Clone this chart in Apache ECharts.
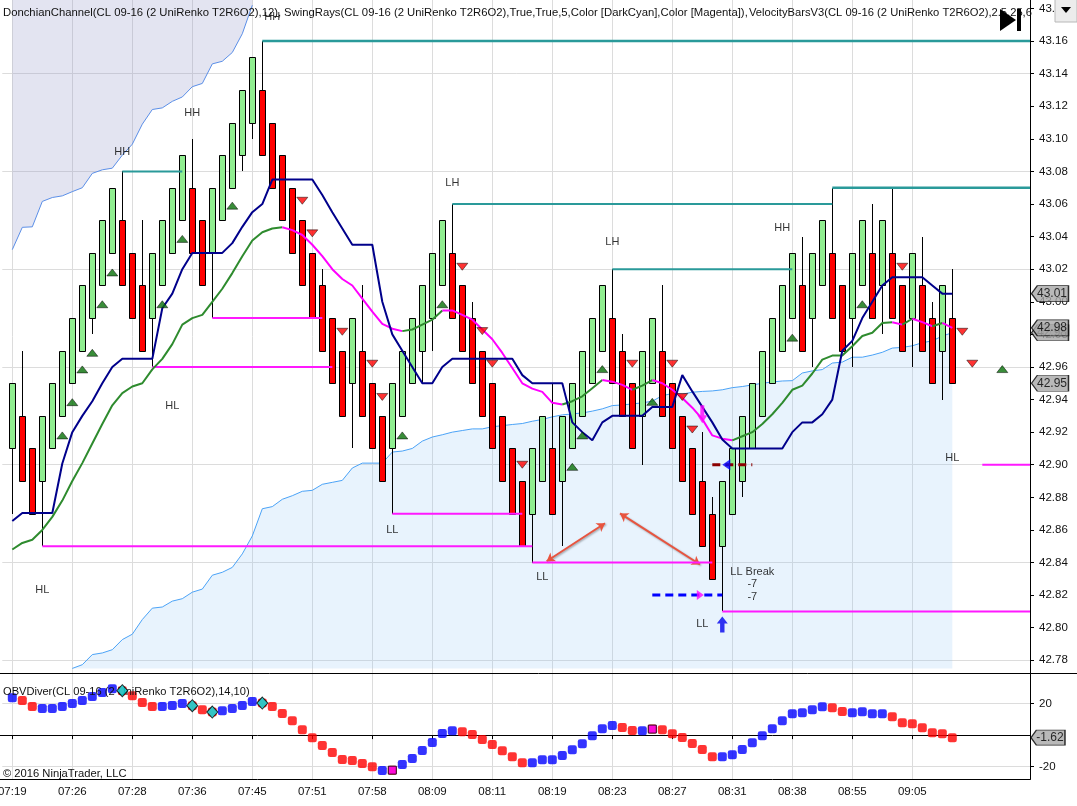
<!DOCTYPE html>
<html><head><meta charset="utf-8">
<style>html,body{margin:0;padding:0;background:#fff}#c{width:1077px;height:806px}</style>
<script src="https://cdn.jsdelivr.net/npm/echarts@6/dist/echarts.min.js"></script>
</head><body><div id="c"></div>
<script>
const FONT='"Liberation Sans",Arial,sans-serif';
const timeLabels=['07:19','07:26','07:28','07:36','07:45','07:51','07:58','08:09','08:11','08:19','08:23','08:27','08:31','08:38','08:55','09:05'];
const timeIndex=[0,6,12,18,24,30,36,42,48,54,60,66,72,78,84,90];
const priceTicks=[42.78,42.80,42.82,42.84,42.86,42.88,42.90,42.92,42.94,42.96,42.98,43.00,43.02,43.04,43.06,43.08,43.10,43.12,43.14,43.16,43.18];
const priceGrid=[42.78,42.84,42.90,42.96,43.02,43.08,43.14];
const bodyTop=[42.95,42.93,42.91,42.93,42.95,42.97,42.99,43.01,43.03,43.05,43.07,43.05,43.03,43.01,43.03,43.05,43.07,43.09,43.07,43.05,43.07,43.09,43.11,43.13,43.15,43.13,43.11,43.09,43.07,43.05,43.03,43.01,42.99,42.97,42.99,42.97,42.95,42.93,42.95,42.97,42.99,43.01,43.03,43.05,43.03,43.01,42.99,42.97,42.95,42.93,42.91,42.89,42.91,42.93,42.91,42.93,42.95,42.97,42.99,43.01,42.99,42.97,42.95,42.97,42.99,42.97,42.95,42.93,42.91,42.89,42.87,42.89,42.91,42.93,42.95,42.97,42.99,43.01,43.03,43.01,43.03,43.05,43.03,43.01,43.03,43.05,43.03,43.05,43.03,43.01,43.03,43.01,42.99,43.01,42.99];
const bodyBottom=[42.91,42.89,42.87,42.89,42.91,42.93,42.95,42.97,42.99,43.01,43.03,43.01,42.99,42.97,42.99,43.01,43.03,43.05,43.03,43.01,43.03,43.05,43.07,43.09,43.11,43.09,43.07,43.05,43.03,43.01,42.99,42.97,42.95,42.93,42.95,42.93,42.91,42.89,42.91,42.93,42.95,42.97,42.99,43.01,42.99,42.97,42.95,42.93,42.91,42.89,42.87,42.85,42.87,42.89,42.87,42.89,42.91,42.93,42.95,42.97,42.95,42.93,42.91,42.93,42.95,42.93,42.91,42.89,42.87,42.85,42.83,42.85,42.87,42.89,42.91,42.93,42.95,42.97,42.99,42.97,42.99,43.01,42.99,42.97,42.99,43.01,42.99,43.01,42.99,42.97,42.99,42.97,42.95,42.97,42.95];
const greenBars=[0,3,4,5,6,7,8,9,10,14,15,16,17,20,21,22,23,24,34,38,39,40,41,42,43,52,53,55,56,57,58,59,63,64,71,72,73,74,75,76,77,78,80,81,84,85,87,90,93];
const wickHigh=[[1,42.97],[11,43.08],[13,43.05],[18,43.10],[25,43.16],[31,43.02],[35,43.01],[44,43.06],[46,43.00],[54,42.95],[60,43.02],[61,42.98],[65,43.01],[69,42.92],[70,42.88],[79,43.04],[82,43.07],[86,43.06],[88,43.07],[91,43.04],[92,43.00],[94,43.02]];
const wickLow=[[0,42.87],[3,42.85],[8,42.98],[14,42.96],[20,42.99],[23,43.08],[24,43.10],[34,42.91],[38,42.87],[41,42.95],[42,42.97],[52,42.84],[55,42.85],[63,42.90],[71,42.81],[73,42.88],[80,42.96],[84,42.96],[87,42.98],[90,42.96],[93,42.94]];
const navyLine=[42.8655,42.8704,42.8704,42.8704,42.8704,42.9008,42.92,42.93,42.939,42.95,42.96,42.965,42.965,42.965,42.965,42.996,43.005,43.02,43.03,43.03,43.03,43.03,43.036,43.046,43.055,43.06,43.075,43.075,43.075,43.075,43.075,43.0655,43.055,43.045,43.035,43.035,43.035,43.0,42.98,42.97,42.96,42.95,42.95,42.96,42.965,42.965,42.965,42.965,42.965,42.965,42.965,42.955,42.95,42.95,42.95,42.95,42.926,42.92,42.915,42.926,42.93,42.93,42.93,42.93,42.9355,42.9355,42.9355,42.955,42.945,42.9355,42.926,42.9155,42.91,42.91,42.91,42.91,42.91,42.91,42.92,42.926,42.926,42.931,42.94,42.97,42.976,42.99,43.0,43.01,43.015,43.015,43.015,43.015,43.01,43.005,43.005];
const maLine=[42.848,42.852,42.854,42.86,42.868,42.878,42.89,42.901,42.913,42.925,42.9365,42.944,42.948,42.95,42.9585,42.965,42.974,42.986,42.99,42.992,43.0,43.008,43.0176,43.028,43.0376,43.0427,43.045,43.0457,43.044,43.041,43.035,43.028,43.02,43.014,43.01,43.002,42.994,42.9865,42.9835,42.982,42.983,42.986,42.989,42.9947,42.9947,42.992,42.989,42.983,42.977,42.9686,42.9594,42.95,42.9467,42.9447,42.938,42.937,42.939,42.942,42.947,42.952,42.951,42.949,42.946,42.9486,42.952,42.95,42.946,42.941,42.935,42.928,42.918,42.916,42.915,42.9175,42.92,42.925,42.931,42.938,42.946,42.9486,42.956,42.9645,42.967,42.967,42.9727,42.979,42.981,42.987,42.9875,42.986,42.9896,42.9875,42.985,42.987,42.984];
const maTurns=[[0,'#2e8b2e'],[27,'#ff00ff'],[39,'#2e8b2e'],[43,'#ff00ff'],[55,'#2e8b2e'],[59,'#ff00ff'],[62,'#2e8b2e'],[64,'#ff00ff'],[72,'#2e8b2e'],[88,'#ff00ff'],[89,'#2e8b2e'],[90,'#ff00ff'],[92,'#2e8b2e'],[93,'#ff00ff']];
const upperBand=[43.032,43.0457,43.046,43.0616,43.064,43.065,43.0676,43.07,43.0788,43.081,43.082,43.09,43.0967,43.109,43.118,43.119,43.123,43.1257,43.132,43.134,43.146,43.1476,43.153,43.1645,43.182];
const lowerBandStart=6;
const lowerBand=[42.775,42.7773,42.7835,42.7845,42.7865,42.7927,42.796,42.805,42.812,42.8127,42.8163,42.8178,42.8218,42.8237,42.8322,42.834,42.837,42.8453,42.8563,42.873,42.8743,42.8788,42.881,42.8837,42.8843,42.888,42.8892,42.8904,42.898,42.901,42.901,42.901,42.9078,42.9084,42.91,42.9145,42.917,42.9184,42.92,42.921,42.922,42.922,42.9233,42.924,42.9247,42.9253,42.9267,42.9278,42.9294,42.9306,42.9312,42.9318,42.9329,42.9343,42.9363,42.9367,42.9373,42.938,42.939,42.9424,42.9437,42.9433,42.9445,42.945,42.9453,42.946,42.9473,42.948,42.949,42.95,42.9508,42.9514,42.9516,42.9563,42.9576,42.9584,42.9624,42.963,42.966,42.966,42.9673,42.969,42.9716,42.972,42.973,42.9749,42.976,42.979,42.981];
const X_MAX=101.77;
const tealRays=[[11,17,43.08],[25,X_MAX,43.16],[44,82,43.06],[60,78,43.02],[82,X_MAX,43.07]];
const magentaRays=[[3,52,42.85],[14,32,42.96],[20,31,42.99],[38,51,42.87],[52,70,42.84],[71,X_MAX,42.81],[97,X_MAX,42.90]];
const upTriangles=[[5,42.918],[6,42.9384],[7,42.9585],[8,42.9687],[9,42.9985],[10,43.018],[15,42.9985],[17,43.0386],[22,43.059],[39,42.918],[43,42.9985],[56,42.8987],[57,42.918],[59,42.9587],[64,42.9386],[78,42.978],[85,42.9985],[99,42.9587]];
const downTriangles=[[29,43.062],[30,43.042],[33,42.9816],[36,42.962],[37,42.9416],[45,43.0215],[47,42.982],[48,42.962],[51,42.90],[62,42.962],[66,42.962],[67,42.9416],[68,42.9216],[89,43.0215],[95,42.9816],[96,42.962]];
const textNotes=[['HH',26,43.175],['HH',11,43.092],['HH',18,43.116],['HL',16,42.936],['HL',3,42.823],['LH',44,43.073],['LH',60,43.037],['LL',38,42.860],['LL',53,42.831],['LL',69,42.802],['HH',77,43.045],['HL',94,42.904],['LL Break',74,42.834],['-7',74,42.827],['-7',74,42.819]];
const tagPricesBack=[42.981];
const tagTextsBack=['42.98'];
const tagPrices=[43.005,42.984,42.95];
const tagTexts=['43.01','42.98','42.95'];
const obvValues=[23.83,22.13,18.3,17.02,17.02,18.3,20.21,22.13,24.68,27.23,29.57,28.3,25.11,20.85,18.3,18.3,18.94,20.21,18.72,16.17,14.68,15.53,17.02,18.94,21.49,20.43,18.3,13.83,9.15,3.4,-1.7,-6.6,-11.06,-15.53,-16.17,-18.09,-20.21,-22.55,-22.34,-18.72,-14.89,-9.79,-4.68,1.06,2.77,2.13,0.43,-2.77,-5.96,-10,-13.83,-17.66,-17.66,-15.74,-15.74,-12.98,-9.36,-5.53,-0.43,4.04,6.17,4.89,2.98,2.77,3.83,3.4,0.85,-1.49,-5.32,-9.15,-13.83,-13.83,-12.55,-9.15,-4.89,-0.43,4.04,9.15,13.62,14.26,16.17,18.09,17.45,15.11,14.26,14.89,13.62,13.62,11.7,7.87,7.23,4.68,1.49,0.85,-1.62];
const obvBlueRuns=[[0,0],[3,10],[15,17],[21,24],[37,37],[39,44],[52,60],[63,63],[71,81],[84,87]];
const obvDiamonds=[11,18,20,25];
const obvSquares=[38,64];
const arrowLines=[[[59.27,42.8641],[53.43,42.8408]],[[60.77,42.8701],[68.77,42.8388]]];
const blueDashed=[[64,42.82],[71,42.82]];
const redDashed=[[70,42.90],[74,42.90]];

const hiMap=new Map(wickHigh),loMap=new Map(wickLow),greenSet=new Set(greenBars);
const isBlue=i=>obvBlueRuns.some(r=>i>=r[0]&&i<=r[1]);
const line=(data,color,width,extra)=>Object.assign({type:'line',xAxisIndex:0,yAxisIndex:0,data,symbol:'none',silent:true,lineStyle:{color,width},z:5},extra||{});

const maSeries=maTurns.map((t,k)=>{
  const end=k+1<maTurns.length?maTurns[k+1][0]:maLine.length-1;
  const d=[];for(let i=t[0];i<=end;i++)d.push([i,maLine[i]]);
  return line(d,t[1],2,{z:7});
});
const raySeries=[...tealRays.map(r=>line([[r[0],r[2]],[r[1],r[2]]],'#2a9a9a',r[1]===X_MAX?2.4:2,{z:6})),
  ...magentaRays.map(r=>line([[r[0],r[2]],[r[1],r[2]]],'#ff19ff',2,{z:6}))];
const tagSeries=(prices,texts,z)=>({type:'scatter',xAxisIndex:0,yAxisIndex:0,silent:true,z,clip:false,
  data:prices.map((v,i)=>({value:[X_MAX,v],name:texts[i]})),
  symbol:'path://M0 8 L6 0 H38 V16 H6 Z',symbolSize:[37,16],symbolOffset:[20,0],
  itemStyle:{color:'#a8a8a8',borderColor:'#000',borderWidth:1},
  label:{show:true,position:'inside',offset:[2,0],formatter:p=>p.name,fontFamily:FONT,fontSize:12,color:'#000'}});

const series=[
 line(upperBand.map((v,i)=>[i,v]),'#5b8fe8',1,{areaStyle:{color:'rgba(150,155,205,0.27)',origin:'end',opacity:1},z:2}),
 line(lowerBand.map((v,i)=>[i+lowerBandStart,v]),'#4ba3f7',1,{areaStyle:{color:'rgba(140,195,245,0.2)',origin:42.775,opacity:1},z:2}),
 {type:'custom',xAxisIndex:0,yAxisIndex:0,silent:true,z:4,clip:true,
  data:bodyTop.map((t,i)=>[i,t,bodyBottom[i],hiMap.has(i)?hiMap.get(i):t,loMap.has(i)?loMap.get(i):bodyBottom[i]]),
  renderItem(p,api){
   const i=api.value(0),c=api.coord([i,api.value(1)]),b=api.coord([i,api.value(2)]),h=api.coord([i,api.value(3)]),l=api.coord([i,api.value(4)]);
   const x=Math.round(c[0])+0.5,yt=Math.round(c[1])+0.5,yb=Math.round(b[1])+0.5;
   return {type:'group',children:[
     {type:'line',shape:{x1:x,y1:Math.round(h[1]),x2:x,y2:Math.round(l[1])},style:{stroke:'#000',lineWidth:1}},
     {type:'rect',shape:{x:x-3,y:yt,width:6,height:yb-yt},style:{fill:greenSet.has(i)?'#90ee90':'#ff0000',stroke:'#000',lineWidth:1}}
   ]};
  }},
 ...raySeries,
 line(navyLine.map((v,i)=>[i,v]),'#00008b',2,{z:8}),
 ...maSeries,
 {type:'scatter',xAxisIndex:0,yAxisIndex:0,silent:true,z:9,data:upTriangles,symbol:'triangle',symbolSize:[11,7],itemStyle:{color:'#077007',borderColor:'#000',borderWidth:0.6}},
 {type:'scatter',xAxisIndex:0,yAxisIndex:0,silent:true,z:9,data:downTriangles,symbol:'triangle',symbolRotate:180,symbolSize:[11,7],itemStyle:{color:'#ff0000',borderColor:'#000',borderWidth:0.6}},
 {type:'scatter',xAxisIndex:0,yAxisIndex:0,silent:true,z:10,symbol:'circle',symbolSize:1,itemStyle:{color:'transparent'},
  data:textNotes.map(n=>({value:[n[1],n[2]],name:n[0]})),
  label:{show:true,position:'inside',formatter:p=>p.name,fontFamily:FONT,fontSize:11,color:'#000'}},
 line(blueDashed,'#0000ff',3,{z:9,lineStyle:{color:'#0000ff',width:3,type:[8,5]}}),
 line(redDashed,'#8b0000',3,{z:9,lineStyle:{color:'#8b0000',width:3,type:[8,5]}}),
 {type:'scatter',xAxisIndex:0,yAxisIndex:0,silent:true,z:11,data:[[68.8,42.82]],symbol:'triangle',symbolRotate:-90,symbolSize:[10,7],itemStyle:{color:'#ff00ff'}},
 {type:'scatter',xAxisIndex:0,yAxisIndex:0,silent:true,z:11,data:[[71.4,42.90]],symbol:'triangle',symbolRotate:90,symbolSize:[11,8],itemStyle:{color:'#0000ff'}},
 {type:'scatter',xAxisIndex:0,yAxisIndex:0,silent:true,z:11,data:[[71,42.802]],symbol:'path://M5 0 L10 7 H7 V16 H3 V7 H0 Z',symbolSize:[11,16],itemStyle:{color:'#0000ee'}},
 {type:'scatter',xAxisIndex:0,yAxisIndex:0,silent:true,z:12,data:[[69,42.931]],symbol:'path://M5 0 L10 7 H7 V16 H3 V7 H0 Z',symbolRotate:180,symbolSize:[10,18],itemStyle:{color:'#ff00ff'}},
 {type:'line',xAxisIndex:0,yAxisIndex:0,data:[],silent:true,z:11,
  markLine:{silent:true,animation:false,symbol:['arrow','arrow'],symbolSize:8,label:{show:false},
   lineStyle:{color:'#e8543f',width:2,type:'solid',shadowColor:'rgba(0,0,0,0.35)',shadowBlur:2,shadowOffsetX:1,shadowOffsetY:1},
   data:arrowLines.map(a=>[{coord:a[0]},{coord:a[1]}])}},
 tagSeries(tagPricesBack,tagTextsBack,19),
 tagSeries(tagPrices,tagTexts,20),
 {type:'scatter',xAxisIndex:1,yAxisIndex:2,silent:true,z:5,symbol:'roundRect',symbolSize:9,
  data:obvValues.map((v,i)=>({value:[i,v],itemStyle:{color:isBlue(i)?'#0000ff':'#ff0000'}}))},
 {type:'scatter',xAxisIndex:1,yAxisIndex:2,silent:true,z:6,symbol:'diamond',symbolSize:[11,12],
  data:obvDiamonds.map(i=>[i,obvValues[i]]),itemStyle:{color:'#00e8e8',borderColor:'#000',borderWidth:1}},
 {type:'scatter',xAxisIndex:1,yAxisIndex:2,silent:true,z:6,symbol:'rect',symbolSize:8,
  data:obvSquares.map(i=>[i,obvValues[i]]),itemStyle:{color:'#ff00ff',borderColor:'#000',borderWidth:1}},
 {type:'scatter',xAxisIndex:1,yAxisIndex:2,silent:true,z:20,clip:false,
  data:[{value:[X_MAX,-1.62],name:'-1.62'}],
  symbol:'path://M0 8 L6 0 H38 V16 H6 Z',symbolSize:[34,15],symbolOffset:[18,0],
  itemStyle:{color:'#a8a8a8',borderColor:'#000',borderWidth:1},
  label:{show:true,position:'inside',offset:[2,0],formatter:p=>p.name,fontFamily:FONT,fontSize:12,color:'#000'}}
];

const gridLine={show:true,lineStyle:{color:'#dcdcdc',width:1}};
const ts=s=>({fontFamily:FONT,fontSize:s,fontWeight:'normal',color:'#111'});
const chart=echarts.init(document.getElementById('c'),null,{renderer:'canvas'});
chart.setOption({
 animation:false,backgroundColor:'#fff',
 textStyle:{fontFamily:FONT},
 title:[
  {text:'DonchianChannel(CL 09-16 (2 UniRenko T2R6O2),12),',left:3,top:7,padding:0,textStyle:ts(11.3)},
  {text:'SwingRays(CL 09-16 (2 UniRenko T2R6O2),True,True,5,Color [DarkCyan],Color [Magenta]),',left:284,top:7,padding:0,textStyle:ts(11.3)},
  {text:'VelocityBarsV3(CL 09-16 (2 UniRenko T2R6O2),2.5,25,6',left:749,top:7,padding:0,textStyle:ts(11.2)},
  {text:'OBVDiver(CL 09-16 (2 UniRenko T2R6O2),14,10)',left:3,top:686,padding:0,textStyle:ts(11.1)},
  {text:'© 2016 NinjaTrader, LLC',left:3,top:768,padding:0,textStyle:ts(11.2)}
 ],
 grid:[{left:2.3,top:0,width:1027.7,height:673,show:false,outerBoundsMode:'none'},{left:2.3,top:673.3,width:1027.7,height:106.2,show:false,outerBoundsMode:'none'}],
 xAxis:[
  {type:'value',gridIndex:0,min:-1,max:X_MAX,axisLine:{show:false},axisLabel:{show:false},
   axisTick:{show:false,customValues:timeIndex},splitLine:gridLine},
  {type:'value',gridIndex:1,min:-1,max:X_MAX,axisLine:{show:false},
   axisTick:{show:true,length:4,customValues:timeIndex,lineStyle:{color:'#000'}},
   axisLabel:{show:true,customValues:timeIndex,margin:6,fontFamily:FONT,fontSize:11.5,color:'#111',hideOverlap:false,
     showMinLabel:true,showMaxLabel:true,formatter:v=>timeLabels[timeIndex.indexOf(v)]||''},
   splitLine:gridLine}
 ],
 yAxis:[
  {type:'value',gridIndex:0,position:'right',min:42.7722,max:43.1852,axisLine:{show:true,onZero:false,lineStyle:{color:'#000'}},
   axisTick:{show:true,length:4,customValues:priceTicks,lineStyle:{color:'#000'}},
   axisLabel:{customValues:priceTicks,margin:9,fontFamily:FONT,fontSize:11.5,color:'#111',formatter:v=>v.toFixed(2)},splitLine:{show:false}},
  {type:'value',gridIndex:0,position:'right',min:42.7722,max:43.1852,axisLine:{show:false},axisLabel:{show:false},
   axisTick:{show:false,customValues:priceGrid},splitLine:gridLine},
  {type:'value',gridIndex:1,position:'right',min:-28.3,max:39.4,axisLine:{show:true,onZero:false,lineStyle:{color:'#000'}},
   axisTick:{show:true,length:4,customValues:[-20,20],lineStyle:{color:'#000'}},
   axisLabel:{customValues:[-20,20],margin:9,fontFamily:FONT,fontSize:11.5,color:'#111'},splitLine:gridLine}
 ],
 graphic:[
  {type:'line',silent:true,z:30,shape:{x1:0,y1:673.5,x2:1077,y2:673.5},style:{stroke:'#000',lineWidth:1}},
  {type:'line',silent:true,z:3,shape:{x1:0,y1:735.5,x2:1030,y2:735.5},style:{stroke:'#000',lineWidth:1}},
  {type:'line',silent:true,z:30,shape:{x1:0,y1:779.5,x2:1030,y2:779.5},style:{stroke:'#000',lineWidth:1}},
  {type:'polygon',silent:true,z:40,shape:{points:[[1000,9],[1016,20],[1000,31]]},style:{fill:'#000'}},
  {type:'rect',silent:true,z:40,shape:{x:1017,y:9,width:4,height:22},style:{fill:'#000'}},
  {type:'rect',silent:true,z:40,shape:{x:1055,y:-1,width:22,height:23},style:{fill:'#ececec',stroke:'#b8b8b8',lineWidth:1}},
  {type:'polygon',silent:true,z:41,shape:{points:[[1061,7],[1071,7],[1066,13]]},style:{fill:'#000'}}
 ],
 series
});
</script></body></html>
